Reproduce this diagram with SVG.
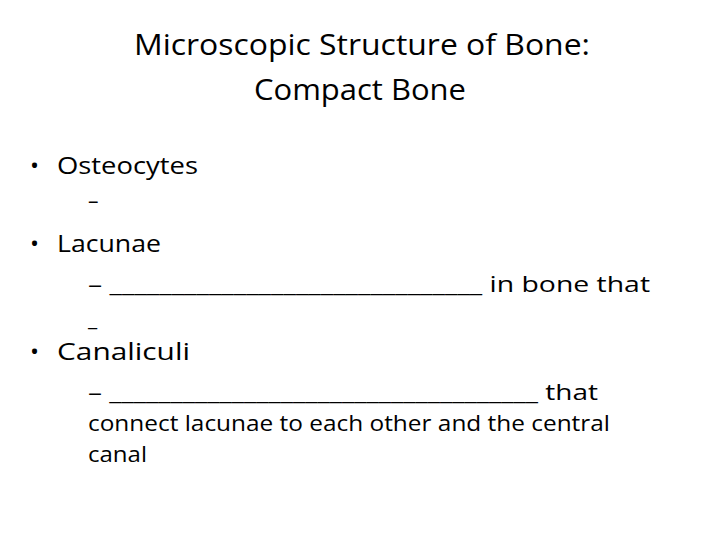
<svg xmlns="http://www.w3.org/2000/svg" width="720" height="540" viewBox="0 0 720 540">
<style>
text{font-family:"Open Sans","Liberation Sans",sans-serif;fill:#000}
.t{font-size:29px;text-anchor:middle}
.b{font-size:24px}
.s{font-size:21px}
</style>
<rect width="720" height="540" fill="#fff"/>
<g id="title">
<text class="t" x="362" y="55" textLength="456" lengthAdjust="spacingAndGlyphs">Microscopic Structure of Bone:</text>
<text class="t" x="360" y="100" textLength="212" lengthAdjust="spacingAndGlyphs">Compact Bone</text>
</g>
<g id="osteocytes">
<text class="b" x="30" y="174">•</text>
<text class="b" x="57" y="174" textLength="141" lengthAdjust="spacingAndGlyphs">Osteocytes</text>
<text class="s" x="88" y="208">–</text>
</g>
<g id="lacunae">
<text class="b" x="30" y="252">•</text>
<text class="b" x="57" y="252" textLength="104" lengthAdjust="spacingAndGlyphs">Lacunae</text>
<text class="s" x="88" y="292" textLength="562" lengthAdjust="spacingAndGlyphs">– ______________________________ in bone that</text>
<text class="s" x="88" y="326">_</text>
</g>
<g id="canaliculi">
<text class="b" x="30" y="360">•</text>
<text class="b" x="57" y="360" textLength="133" lengthAdjust="spacingAndGlyphs">Canaliculi</text>
<text class="s" x="88" y="400" textLength="510" lengthAdjust="spacingAndGlyphs">– ___________________________________ that</text>
<text class="s" x="88" y="431" textLength="522" lengthAdjust="spacingAndGlyphs">connect lacunae to each other and the central</text>
<text class="s" x="88" y="462" textLength="59" lengthAdjust="spacingAndGlyphs">canal</text>
</g>
</svg>
